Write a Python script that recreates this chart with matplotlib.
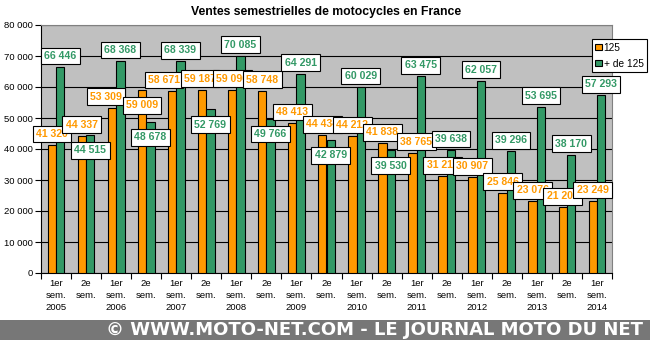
import numpy as np
import matplotlib
matplotlib.use("Agg")
import matplotlib.pyplot as plt
import matplotlib.patches as patches

# semesters 2005 -> 1er 2014
periods = ["1er\nsem.\n2005", "2e\nsem.", "1er\nsem.\n2006", "2e\nsem.", "1er\nsem.\n2007",
           "2e\nsem.", "1er\nsem.\n2008", "2e\nsem.", "1er\nsem.\n2009", "2e\nsem.",
           "1er\nsem.\n2010", "2e\nsem.", "1er\nsem.\n2011", "2e\nsem.", "1er\nsem.\n2012",
           "2e\nsem.", "1er\nsem.\n2013", "2e\nsem.", "1er\nsem.\n2014"]
ventes_125 = [41320, 44337, 53309, 59009, 58671, 59187, 59096, 58748, 48413, 44434,
              44212, 41838, 38765, 31218, 30907, 25846, 23076, 21203, 23249]
ventes_plus125 = [66446, 44515, 68368, 48678, 68339, 52769, 70085, 49766, 64291, 42879,
                  60029, 39530, 63475, 39638, 62057, 39296, 53695, 38170, 57293]

# labels drawn below the bar top instead of above
below_125 = [3]
below_plus125 = [1, 3, 5, 7, 9, 11]
# small sideways nudges of some labels (fraction of a category)
nudge_125 = {2: -0.2, 4: -0.27, 5: -0.07, 12: 0.13}

ORANGE = "#FF9900"
GREEN = "#339966"

plt.rcParams['font.family'] = ['Liberation Sans', 'DejaVu Sans']

fig = plt.figure(figsize=(6.5, 3.4), dpi=100)
ax = fig.add_axes([41/650, 1-273/340, (612-41)/650, (273-25)/340])
ax.set_facecolor("#C0C0C0")

x = np.arange(len(periods))
w = 0.28
ax.bar(x - w/2, ventes_125, w, color=ORANGE, edgecolor="black", linewidth=0.8, zorder=3, label="125")
ax.bar(x + w/2, ventes_plus125, w, color=GREEN, edgecolor="black", linewidth=0.8, zorder=3, label="+ de 125")

def fmt(v):
    return f"{v:,}".replace(",", " ")

def add_label(xi, v, below, color):
    y = v - 4900 if below else v + 3550
    ax.text(xi, y, fmt(v), ha="center", va="center", fontsize=7.6, fontweight="bold",
            color=color, zorder=5, clip_on=False,
            bbox=dict(boxstyle="square,pad=0.32", facecolor="white", edgecolor="black", linewidth=0.8))

for i in range(len(periods)):
    add_label(x[i] - w/2 + nudge_125.get(i, 0), ventes_125[i], i in below_125, ORANGE)
    add_label(x[i] + w/2, ventes_plus125[i], i in below_plus125, GREEN)

ax.set_ylim(0, 80000)
ax.set_xlim(-0.5, len(periods) - 0.5)
ax.set_yticks(np.arange(0, 80001, 10000))
ax.set_yticklabels([fmt(v) for v in range(0, 80001, 10000)], fontsize=6.8)
ax.yaxis.grid(True, color="black", linewidth=0.8, zorder=1)
ax.set_axisbelow(True)

ax.set_xticks(x)
ax.set_xticklabels(periods, fontsize=6.8, linespacing=1.45)
ax.set_xticks(np.arange(-0.5, len(periods), 1), minor=True)
ax.tick_params(axis="x", which="major", length=0, pad=4)
ax.tick_params(axis="x", which="minor", length=4, width=0.8, direction="out")
ax.tick_params(axis="y", length=4, width=0.8, direction="out", pad=2)

for s in ["top", "right"]:
    ax.spines[s].set_color("#808080")
for s in ["left", "bottom"]:
    ax.spines[s].set_color("black")

fig.text(326/650, 1-12/340, "Ventes semestrielles de motocycles en France", ha="center", va="center",
         fontsize=8.8, fontweight="bold")

leg = ax.legend(loc="upper right", bbox_to_anchor=(647/650, 1-39/340), bbox_transform=fig.transFigure,
                fontsize=7.3, frameon=True, fancybox=False, framealpha=1, edgecolor="black",
                handlelength=0.6, handleheight=0.6, handletextpad=0.2, borderpad=0.35,
                labelspacing=0.6, borderaxespad=0)
leg.get_frame().set_linewidth(0.8)

# bottom banner
fig.patches.append(patches.Rectangle((0, 0), 1, 20/340, transform=fig.transFigure,
                                     facecolor="#777777", edgecolor="none", zorder=0))
fig.text(375/650, 10/340, "© WWW.MOTO-NET.COM - LE JOURNAL MOTO DU NET", ha="center", va="center",
         fontsize=13, fontweight="bold", color="white", family="DejaVu Sans")

fig.savefig("out.png", dpi=100)
